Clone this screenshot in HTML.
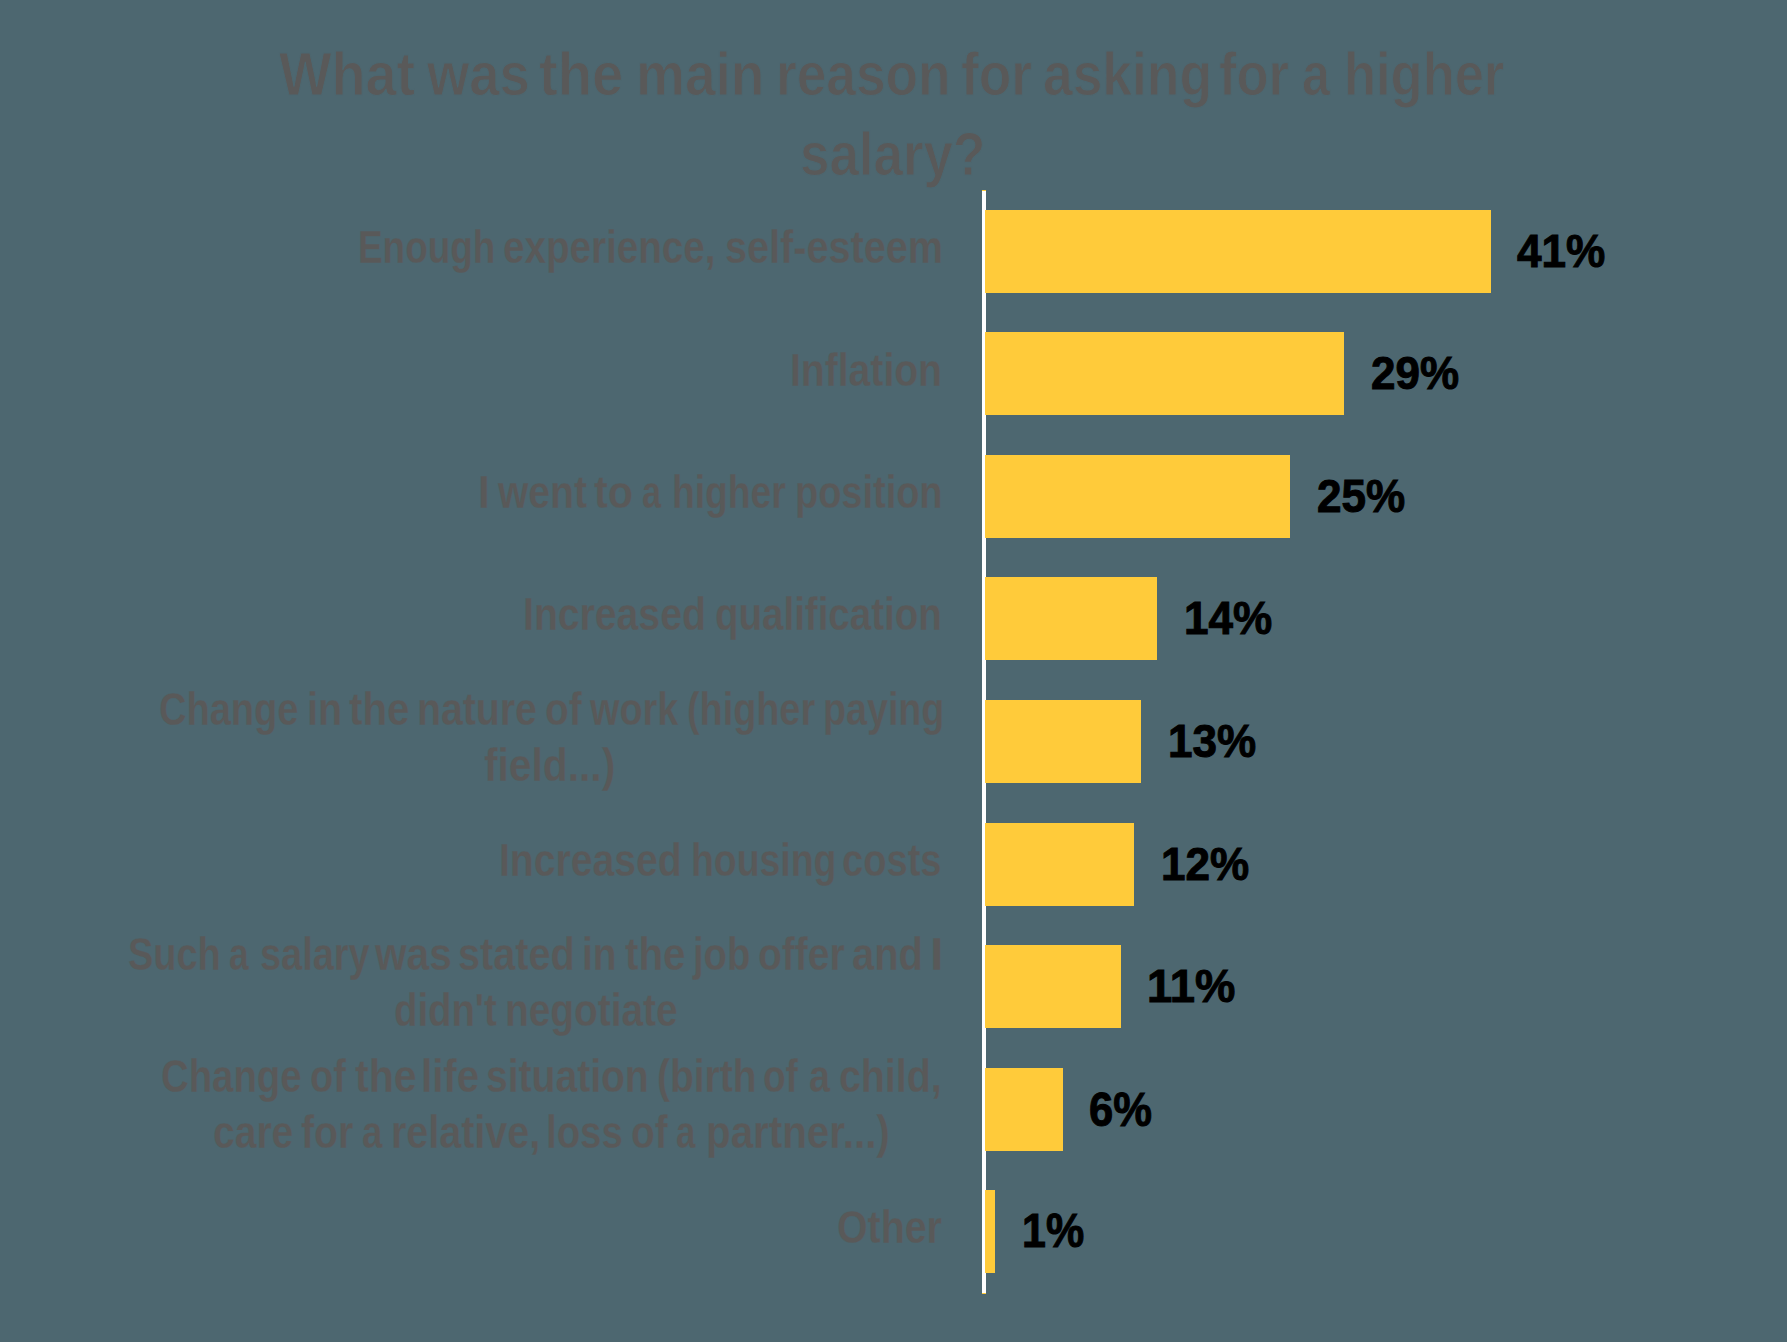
<!DOCTYPE html>
<html><head><meta charset="utf-8"><style>
html,body{margin:0;padding:0;}
body{width:1787px;height:1342px;background:#4d6770;position:relative;overflow:hidden;font-family:"Liberation Sans", sans-serif;font-weight:bold;}
.t{position:absolute;white-space:nowrap;line-height:1;transform-origin:0 0;}
.g{-webkit-text-stroke:0.3px #4d6770;}
.k{-webkit-text-stroke:1.0px #000;}
.h{-webkit-text-stroke:1.0px #4d6770;}
.b{position:absolute;background:#ffcb3a;}
</style></head><body>
<div class="t h" style="left:278.94px;top:42.88px;font-size:61.34px;color:#595959;transform:scaleX(0.9080)">What</div>
<div class="t h" style="left:426.86px;top:42.88px;font-size:61.34px;color:#595959;transform:scaleX(0.8865)">was</div>
<div class="t h" style="left:539.03px;top:42.88px;font-size:61.34px;color:#595959;transform:scaleX(0.9161)">the</div>
<div class="t h" style="left:635.67px;top:42.88px;font-size:61.34px;color:#595959;transform:scaleX(0.8972)">main</div>
<div class="t h" style="left:776.29px;top:42.88px;font-size:61.34px;color:#595959;transform:scaleX(0.8682)">reason</div>
<div class="t h" style="left:961.29px;top:42.88px;font-size:61.34px;color:#595959;transform:scaleX(0.8697)">for</div>
<div class="t h" style="left:1043.45px;top:42.88px;font-size:61.34px;color:#595959;transform:scaleX(0.8698)">asking</div>
<div class="t h" style="left:1219.21px;top:42.88px;font-size:61.34px;color:#595959;transform:scaleX(0.8559)">for</div>
<div class="t h" style="left:1301.74px;top:42.88px;font-size:61.34px;color:#595959;transform:scaleX(0.8182)">a</div>
<div class="t h" style="left:1344.03px;top:42.88px;font-size:61.34px;color:#595959;transform:scaleX(0.8550)">higher</div>
<div class="t h" style="left:800.45px;top:122.68px;font-size:61.34px;color:#595959;transform:scaleX(0.8625)">salary?</div>
<div class="t g" style="left:357.63px;top:225.37px;font-size:45.64px;color:#595959;transform:scaleX(0.8088)">Enough</div>
<div class="t g" style="left:502.89px;top:225.37px;font-size:45.64px;color:#595959;transform:scaleX(0.8463)">experience,</div>
<div class="t g" style="left:724.51px;top:225.37px;font-size:45.64px;color:#595959;transform:scaleX(0.8682)">self-esteem</div>
<div class="t g" style="left:790.18px;top:347.77px;font-size:45.64px;color:#595959;transform:scaleX(0.8568)">Inflation</div>
<div class="t g" style="left:477.86px;top:470.37px;font-size:45.64px;color:#595959;transform:scaleX(0.9282)">I</div>
<div class="t g" style="left:498.32px;top:470.37px;font-size:45.64px;color:#595959;transform:scaleX(0.8556)">went</div>
<div class="t g" style="left:594.40px;top:470.37px;font-size:45.64px;color:#595959;transform:scaleX(0.9054)">to</div>
<div class="t g" style="left:642.21px;top:470.37px;font-size:45.64px;color:#595959;transform:scaleX(0.7468)">a</div>
<div class="t g" style="left:672.20px;top:470.37px;font-size:45.64px;color:#595959;transform:scaleX(0.8149)">higher</div>
<div class="t g" style="left:794.70px;top:470.37px;font-size:45.64px;color:#595959;transform:scaleX(0.8316)">position</div>
<div class="t g" style="left:523.38px;top:592.37px;font-size:45.64px;color:#595959;transform:scaleX(0.8582)">Increased</div>
<div class="t g" style="left:715.42px;top:592.37px;font-size:45.64px;color:#595959;transform:scaleX(0.8437)">qualification</div>
<div class="t g" style="left:158.74px;top:687.17px;font-size:45.64px;color:#595959;transform:scaleX(0.8326)">Change</div>
<div class="t g" style="left:306.74px;top:687.17px;font-size:45.64px;color:#595959;transform:scaleX(0.8625)">in</div>
<div class="t g" style="left:349.12px;top:687.17px;font-size:45.64px;color:#595959;transform:scaleX(0.8816)">the</div>
<div class="t g" style="left:417.01px;top:687.17px;font-size:45.64px;color:#595959;transform:scaleX(0.8591)">nature</div>
<div class="t g" style="left:545.09px;top:687.17px;font-size:45.64px;color:#595959;transform:scaleX(0.8503)">of</div>
<div class="t g" style="left:589.61px;top:687.17px;font-size:45.64px;color:#595959;transform:scaleX(0.8285)">work</div>
<div class="t g" style="left:686.51px;top:687.17px;font-size:45.64px;color:#595959;transform:scaleX(0.8286)">(higher</div>
<div class="t g" style="left:822.81px;top:687.17px;font-size:45.64px;color:#595959;transform:scaleX(0.8254)">paying</div>
<div class="t g" style="left:484.41px;top:743.17px;font-size:45.64px;color:#595959;transform:scaleX(0.8924)">field...)</div>
<div class="t g" style="left:498.98px;top:838.37px;font-size:45.64px;color:#595959;transform:scaleX(0.8577)">Increased</div>
<div class="t g" style="left:690.68px;top:838.37px;font-size:45.64px;color:#595959;transform:scaleX(0.8195)">housing</div>
<div class="t g" style="left:842.41px;top:838.37px;font-size:45.64px;color:#595959;transform:scaleX(0.8351)">costs</div>
<div class="t g" style="left:128.30px;top:932.17px;font-size:45.64px;color:#595959;transform:scaleX(0.8312)">Such</div>
<div class="t g" style="left:229.48px;top:932.17px;font-size:45.64px;color:#595959;transform:scaleX(0.7714)">a</div>
<div class="t g" style="left:259.67px;top:932.17px;font-size:45.64px;color:#595959;transform:scaleX(0.8308)">salary</div>
<div class="t g" style="left:375.12px;top:932.17px;font-size:45.64px;color:#595959;transform:scaleX(0.8897)">was</div>
<div class="t g" style="left:458.21px;top:932.17px;font-size:45.64px;color:#595959;transform:scaleX(0.8680)">stated</div>
<div class="t g" style="left:582.48px;top:932.17px;font-size:45.64px;color:#595959;transform:scaleX(0.8510)">in</div>
<div class="t g" style="left:624.72px;top:932.17px;font-size:45.64px;color:#595959;transform:scaleX(0.8846)">the</div>
<div class="t g" style="left:692.81px;top:932.17px;font-size:45.64px;color:#595959;transform:scaleX(0.8378)">job</div>
<div class="t g" style="left:757.68px;top:932.17px;font-size:45.64px;color:#595959;transform:scaleX(0.8550)">offer</div>
<div class="t g" style="left:852.05px;top:932.17px;font-size:45.64px;color:#595959;transform:scaleX(0.8723)">and</div>
<div class="t g" style="left:929.84px;top:932.17px;font-size:45.64px;color:#595959;transform:scaleX(1.0651)">I</div>
<div class="t g" style="left:393.53px;top:988.07px;font-size:45.64px;color:#595959;transform:scaleX(0.8396)">didn't</div>
<div class="t g" style="left:504.94px;top:988.07px;font-size:45.64px;color:#595959;transform:scaleX(0.8512)">negotiate</div>
<div class="t g" style="left:161.03px;top:1054.27px;font-size:45.64px;color:#595959;transform:scaleX(0.8400)">Change</div>
<div class="t g" style="left:310.32px;top:1054.27px;font-size:45.64px;color:#595959;transform:scaleX(0.8310)">of</div>
<div class="t g" style="left:354.81px;top:1054.27px;font-size:45.64px;color:#595959;transform:scaleX(0.8996)">the</div>
<div class="t g" style="left:421.39px;top:1054.27px;font-size:45.64px;color:#595959;transform:scaleX(0.8807)">life</div>
<div class="t g" style="left:485.93px;top:1054.27px;font-size:45.64px;color:#595959;transform:scaleX(0.8560)">situation</div>
<div class="t g" style="left:656.65px;top:1054.27px;font-size:45.64px;color:#595959;transform:scaleX(0.8529)">(birth</div>
<div class="t g" style="left:763.46px;top:1054.27px;font-size:45.64px;color:#595959;transform:scaleX(0.8117)">of</div>
<div class="t g" style="left:808.61px;top:1054.27px;font-size:45.64px;color:#595959;transform:scaleX(0.8247)">a</div>
<div class="t g" style="left:839.47px;top:1054.27px;font-size:45.64px;color:#595959;transform:scaleX(0.8612)">child,</div>
<div class="t g" style="left:213.28px;top:1110.27px;font-size:45.64px;color:#595959;transform:scaleX(0.8548)">care</div>
<div class="t g" style="left:301.23px;top:1110.27px;font-size:45.64px;color:#595959;transform:scaleX(0.8589)">for</div>
<div class="t g" style="left:361.64px;top:1110.27px;font-size:45.64px;color:#595959;transform:scaleX(0.8001)">a</div>
<div class="t g" style="left:391.39px;top:1110.27px;font-size:45.64px;color:#595959;transform:scaleX(0.8651)">relative,</div>
<div class="t g" style="left:546.21px;top:1110.27px;font-size:45.64px;color:#595959;transform:scaleX(0.8405)">loss</div>
<div class="t g" style="left:630.69px;top:1110.27px;font-size:45.64px;color:#595959;transform:scaleX(0.8503)">of</div>
<div class="t g" style="left:676.19px;top:1110.27px;font-size:45.64px;color:#595959;transform:scaleX(0.7632)">a</div>
<div class="t g" style="left:705.84px;top:1110.27px;font-size:45.64px;color:#595959;transform:scaleX(0.8841)">partner...)</div>
<div class="t g" style="left:837.49px;top:1205.37px;font-size:45.64px;color:#595959;transform:scaleX(0.8618)">Other</div>
<div class="b" style="left:982px;top:190px;width:4px;height:1104px;background:#fff;border-top:1px solid #ffcb3a;border-bottom:1px solid #ffcb3a;box-sizing:border-box"></div>
<div class="b" style="left:985px;top:210px;width:506px;height:83px"></div>
<div class="b" style="left:985px;top:332px;width:359px;height:83px"></div>
<div class="b" style="left:985px;top:455px;width:305px;height:83px"></div>
<div class="b" style="left:985px;top:577px;width:172px;height:83px"></div>
<div class="b" style="left:985px;top:700px;width:156px;height:83px"></div>
<div class="b" style="left:985px;top:823px;width:149px;height:83px"></div>
<div class="b" style="left:985px;top:945px;width:136px;height:83px"></div>
<div class="b" style="left:985px;top:1068px;width:78px;height:83px"></div>
<div class="b" style="left:985px;top:1190px;width:10px;height:83px"></div>
<div class="t k" style="left:1517.34px;top:228.05px;font-size:46.84px;color:#000;transform:scaleX(0.9422)">41%</div>
<div class="t k" style="left:1370.76px;top:350.14px;font-size:46.26px;color:#000;transform:scaleX(0.9504)">29%</div>
<div class="t k" style="left:1316.56px;top:473.14px;font-size:46.26px;color:#000;transform:scaleX(0.9526)">25%</div>
<div class="t k" style="left:1183.52px;top:595.01px;font-size:46.77px;color:#000;transform:scaleX(0.9428)">14%</div>
<div class="t k" style="left:1167.53px;top:718.01px;font-size:46.77px;color:#000;transform:scaleX(0.9416)">13%</div>
<div class="t k" style="left:1160.53px;top:841.01px;font-size:46.77px;color:#000;transform:scaleX(0.9416)">12%</div>
<div class="t k" style="left:1147.44px;top:963.01px;font-size:46.77px;color:#000;transform:scaleX(0.9695)">11%</div>
<div class="t k" style="left:1088.79px;top:1084.82px;font-size:48.06px;color:#000;transform:scaleX(0.9064)">6%</div>
<div class="t k" style="left:1021.59px;top:1206.92px;font-size:47.70px;color:#000;transform:scaleX(0.9013)">1%</div>
</body></html>
